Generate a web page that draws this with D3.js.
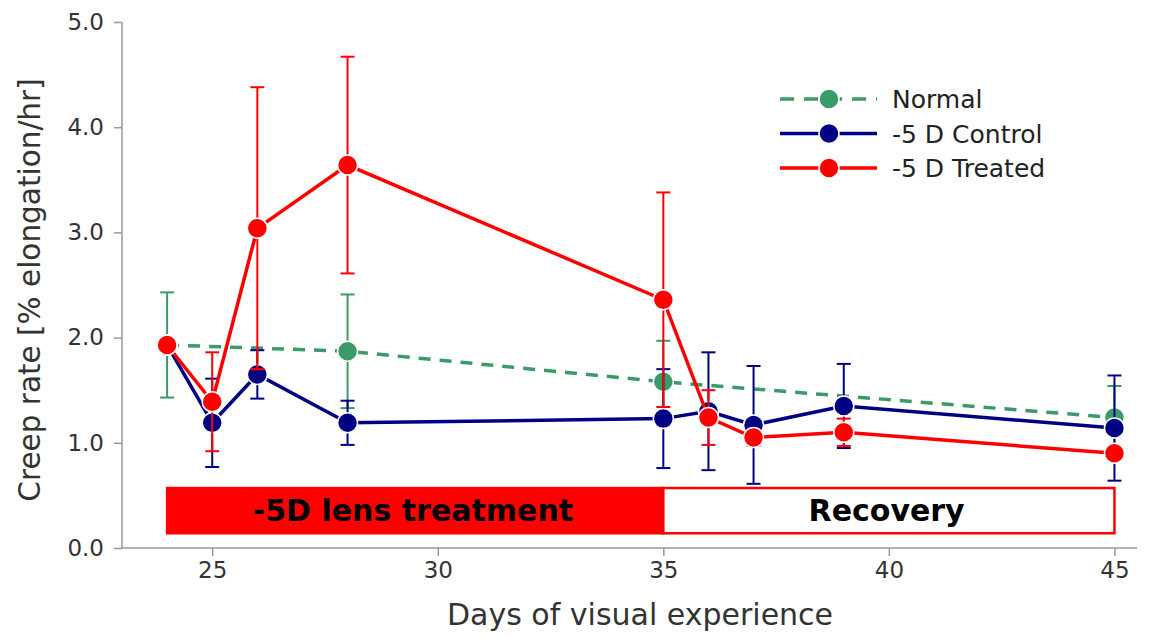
<!DOCTYPE html>
<html>
<head>
<meta charset="utf-8">
<script src="https://cdn.jsdelivr.net/npm/d3@7"></script>
<style>
  body { margin: 0; background: #fff; }
  text { font-family: "DejaVu Sans", sans-serif; }
</style>
</head>
<body>
<svg id="chart" width="1157" height="637"></svg>
<script>
// data
var normalDays = [24, 28, 35, 45];
var normalRate = [1.93, 1.87, 1.58, 1.24];
var normalErr  = [0.50, 0.54, 0.39, 0.30];

var controlDays = [24, 25, 26, 28, 35, 36, 37, 39, 45];
var controlRate = [1.93, 1.19, 1.65, 1.19, 1.23, 1.30, 1.17, 1.35, 1.14];
var controlErr  = [0.00, 0.42, 0.23, 0.21, 0.47, 0.56, 0.56, 0.40, 0.50];

var treatedDays = [24, 25, 26, 28, 35, 36, 37, 39, 45];
var treatedRate = [1.93, 1.39, 3.04, 3.64, 2.36, 1.24, 1.05, 1.10, 0.90];
var treatedErr  = [0.00, 0.47, 1.34, 1.03, 1.02, 0.26, 0.08, 0.13, 0.06];

var yTicks = [0, 1, 2, 3, 4, 5];
var xTicks = [25, 30, 35, 40, 45];

var phases = [
  { label: "-5D lens treatment", start: 24, end: 35, textAt: 29.45, filled: true },
  { label: "Recovery", start: 35, end: 45, textAt: 39.95, filled: false }
];

var series = [
  { name: "Normal", days: normalDays, rate: normalRate, err: normalErr, color: "#3a9a68", dash: "12,9" },
  { name: "-5 D Control", days: controlDays, rate: controlRate, err: controlErr, color: "#000085", dash: null },
  { name: "-5 D Treated", days: treatedDays, rate: treatedRate, err: treatedErr, color: "#ff0000", dash: null }
];

var svg = d3.select("#chart");

var x = d3.scaleLinear().domain([23, 45.5]).range([122, 1137]);
var y = d3.scaleLinear().domain([0, 5]).range([548, 22]);

// axes
var yAxis = svg.append("g")
    .attr("transform", "translate(122,0)")
    .call(d3.axisLeft(y).tickValues(yTicks).tickFormat(d3.format(".1f")).tickSize(8).tickPadding(10));
var xAxis = svg.append("g")
    .attr("transform", "translate(0,548)")
    .call(d3.axisBottom(x).tickValues(xTicks).tickSize(8).tickPadding(6));

[xAxis, yAxis].forEach(function (g) {
    g.selectAll("path").attr("stroke", "#999").attr("stroke-width", 1.5);
    g.selectAll("line").attr("stroke", "#999").attr("stroke-width", 1.5);
    g.selectAll("text").attr("fill", "#333").style("font-size", "23px")
        .style("font-family", "DejaVu Sans, sans-serif");
});
// drop the d3 outer tick ends
xAxis.select(".domain").attr("d", "M122,0H1137");
yAxis.select(".domain").attr("d", "M0,548V22");

svg.append("text")
    .attr("x", 640).attr("y", 625)
    .attr("text-anchor", "middle")
    .attr("fill", "#333")
    .style("font-size", "30px")
    .text("Days of visual experience");

svg.append("text")
    .attr("transform", "translate(40,290) rotate(-90)")
    .attr("text-anchor", "middle")
    .attr("fill", "#333")
    .style("font-size", "29.5px")
    .text("Creep rate [% elongation/hr]");

// treatment / recovery bars
var phaseG = svg.append("g");
phaseG.selectAll("rect")
    .data(phases)
    .enter()
    .append("rect")
    .attr("x", function (d) { return x(d.start); })
    .attr("width", function (d) { return x(d.end) - x(d.start); })
    .attr("y", y(0.57))
    .attr("height", y(0.14) - y(0.57))
    .attr("fill", function (d) { return d.filled ? "#ff0000" : "#fff"; })
    .attr("stroke", "#ff0000")
    .attr("stroke-width", 2.5);
phaseG.selectAll("text")
    .data(phases)
    .enter()
    .append("text")
    .attr("x", function (d) { return x(d.textAt); })
    .attr("y", y(0.355))
    .attr("dy", "0.36em")
    .attr("text-anchor", "middle")
    .attr("fill", "#000")
    .style("font-size", "30px")
    .style("font-weight", "bold")
    .text(function (d) { return d.label; });

// series
var line = d3.line()
    .x(function (d) { return x(d.day); })
    .y(function (d) { return y(d.rate); });

series.forEach(function (s) {
    var pts = s.days.map(function (d, i) { return { day: d, rate: s.rate[i], err: s.err[i] }; });
    var g = svg.append("g");

    // error bars
    var eb = g.append("g").selectAll("g")
        .data(pts.filter(function (p) { return p.err > 0; }))
        .enter()
        .append("g")
        .attr("stroke", s.color)
        .attr("stroke-width", 2);
    eb.append("line")
        .attr("x1", function (p) { return x(p.day); })
        .attr("x2", function (p) { return x(p.day); })
        .attr("y1", function (p) { return y(p.rate - p.err); })
        .attr("y2", function (p) { return y(p.rate + p.err); });
    [-1, 1].forEach(function (sign) {
        eb.append("line")
            .attr("x1", function (p) { return x(p.day) - 7; })
            .attr("x2", function (p) { return x(p.day) + 7; })
            .attr("y1", function (p) { return y(p.rate + sign * p.err); })
            .attr("y2", function (p) { return y(p.rate + sign * p.err); });
    });

    g.append("path")
        .datum(pts)
        .attr("d", line)
        .attr("fill", "none")
        .attr("stroke", s.color)
        .attr("stroke-width", 3.5)
        .attr("stroke-dasharray", s.dash);

    g.selectAll("circle")
        .data(pts)
        .enter()
        .append("circle")
        .attr("cx", function (p) { return x(p.day); })
        .attr("cy", function (p) { return y(p.rate); })
        .attr("r", 10)
        .attr("fill", s.color)
        .attr("stroke", "#fff")
        .attr("stroke-width", 1.5);
});

// legend
var legend = svg.append("g")
    .selectAll("g")
    .data(series)
    .enter()
    .append("g")
    .attr("transform", function (d, i) { return "translate(780," + (99 + i * 34.5) + ")"; });
legend.append("line")
    .attr("x1", 0).attr("x2", 97)
    .attr("stroke", function (d) { return d.color; })
    .attr("stroke-width", 3.5)
    .attr("stroke-dasharray", function (d) { return d.dash ? "14,10" : null; });
legend.append("circle")
    .attr("cx", 49).attr("r", 10)
    .attr("fill", function (d) { return d.color; })
    .attr("stroke", "#fff").attr("stroke-width", 1.5);
legend.append("text")
    .attr("x", 112).attr("dy", "0.36em")
    .attr("fill", "#222")
    .style("font-size", "25px")
    .text(function (d) { return d.name; });
</script>
</body>
</html>
